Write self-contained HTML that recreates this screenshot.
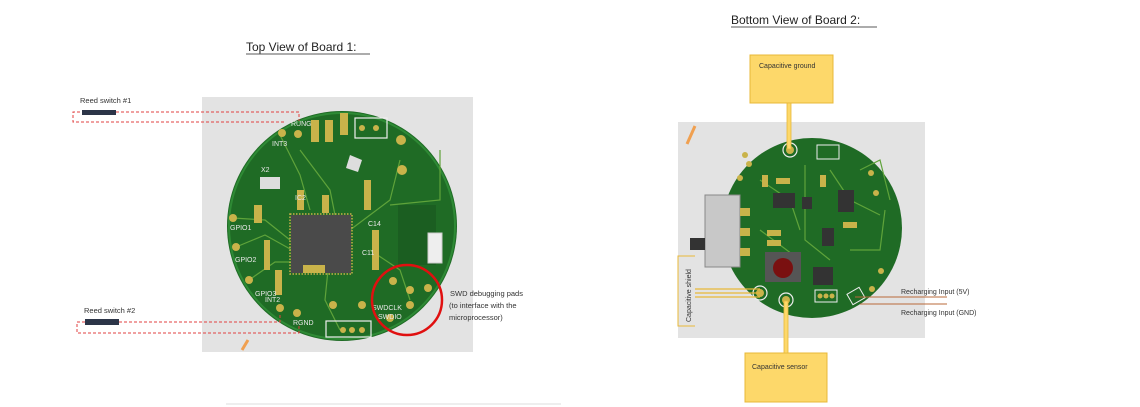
<!DOCTYPE html>
<html><head><meta charset="utf-8"><style>
html,body{margin:0;padding:0;background:#fff;width:1140px;height:407px;overflow:hidden}
svg text{font-family:"Liberation Sans",sans-serif}
</style></head><body>
<svg width="1140" height="407" viewBox="0 0 1140 407" xmlns="http://www.w3.org/2000/svg">
<!-- titles -->
<text x="246" y="51" font-size="12" fill="#222">Top View of Board 1:</text>
<line x1="246" y1="54" x2="370" y2="54" stroke="#222" stroke-width="0.8"/>
<text x="731" y="24" font-size="12" fill="#222">Bottom View of Board 2:</text>
<line x1="731" y1="27" x2="877" y2="27" stroke="#222" stroke-width="0.8"/>

<!-- LEFT board -->
<rect x="202" y="97" width="271" height="255" fill="#e3e3e3"/>
<circle cx="342" cy="226" r="115" fill="#1f6b25"/>
<circle cx="342" cy="226" r="113" fill="none" stroke="#2e8a35" stroke-width="2"/>
<g stroke="#5fa33a" stroke-width="1.2" fill="none">
<path d="M233 218 L265 220 L290 240"/><path d="M236 247 L265 235 L292 250"/><path d="M249 280 L275 262 L292 262"/>
<path d="M280 135 L300 175 L310 210"/><path d="M300 150 L330 190 L335 215"/><path d="M350 230 L390 200 L400 160"/>
<path d="M370 250 L400 270 L410 300"/><path d="M330 250 L325 300 L340 330"/><path d="M390 205 L440 200 L440 150"/>
</g>
<rect x="291" y="215" width="60" height="58" fill="#4a4a4a"/>
<rect x="290" y="214" width="62" height="60" fill="none" stroke="#c8b04a" stroke-width="1.5" stroke-dasharray="1.5 1.5"/>
<rect x="398" y="205" width="38" height="60" fill="#1b5e21"/>
<rect x="428" y="233" width="14" height="30" fill="#eee" stroke="#ccc"/>
<rect x="260" y="177" width="20" height="12" fill="#ddd"/>
<polygon points="350,155 362,160 358,172 346,168" fill="#ddd"/>
<g fill="#c9b34a">
<circle cx="282" cy="133" r="4"/><circle cx="298" cy="134" r="4"/><circle cx="233" cy="218" r="4"/><circle cx="236" cy="247" r="4"/>
<circle cx="249" cy="280" r="4"/><circle cx="280" cy="308" r="4"/><circle cx="297" cy="313" r="4"/><circle cx="333" cy="305" r="4"/>
<circle cx="362" cy="305" r="4"/><circle cx="393" cy="281" r="4"/><circle cx="410" cy="290" r="4"/><circle cx="428" cy="288" r="4"/>
<circle cx="410" cy="305" r="4"/><circle cx="390" cy="318" r="4"/>
<circle cx="401" cy="140" r="5"/><circle cx="402" cy="170" r="5"/>
<rect x="311" y="120" width="8" height="22"/><rect x="325" y="120" width="8" height="22"/><rect x="340" y="113" width="8" height="22"/>
<rect x="297" y="190" width="7" height="20"/><rect x="322" y="195" width="7" height="18"/><rect x="364" y="180" width="7" height="30"/>
<rect x="254" y="205" width="8" height="18"/><rect x="264" y="240" width="6" height="30"/><rect x="275" y="270" width="7" height="25"/>
<rect x="372" y="230" width="7" height="40"/><rect x="303" y="265" width="22" height="8"/>
</g>
<rect x="355" y="118" width="32" height="20" fill="none" stroke="#eee" stroke-width="1.2"/>
<circle cx="362" cy="128" r="3" fill="#c9b34a"/><circle cx="376" cy="128" r="3" fill="#c9b34a"/>
<rect x="326" y="321" width="45" height="16" fill="none" stroke="#eee" stroke-width="1.2"/>
<circle cx="343" cy="330" r="3" fill="#c9b34a"/><circle cx="352" cy="330" r="3" fill="#c9b34a"/><circle cx="362" cy="330" r="3" fill="#c9b34a"/>
<g font-size="7" fill="#e8e8e8">
<text x="291" y="126">RUNG</text><text x="272" y="146">INT3</text><text x="261" y="172">X2</text><text x="295" y="200">IC2</text>
<text x="230" y="230">GPIO1</text><text x="235" y="262">GPIO2</text><text x="255" y="296">GPIO3</text><text x="265" y="302">INT2</text>
<text x="293" y="325">RGND</text><text x="372" y="310">SWDCLK</text><text x="378" y="319">SWDIO</text>
<text x="368" y="226">C14</text><text x="362" y="255">C11</text>
</g>
<circle cx="407" cy="300" r="35" fill="none" stroke="#e01010" stroke-width="2.5"/>
<path d="M242 350 L248 340" stroke="#f0a050" stroke-width="3"/>
<!-- reed switches -->
<text x="80" y="103" font-size="7.5" fill="#333">Reed switch #1</text>
<rect x="82" y="110" width="34" height="5" fill="#2c3548"/>
<path d="M116 112 L299 112 L299 121 M284 122 L73 122 L73 112 L82 112" fill="none" stroke="#e04040" stroke-width="1" stroke-dasharray="3 2"/>
<text x="84" y="313" font-size="7.5" fill="#333">Reed switch #2</text>
<rect x="85" y="319" width="34" height="6" fill="#2c3548"/>
<path d="M119 322 L280 322 L280 315 M299 326 L299 333 L77 333 L77 322 L85 322" fill="none" stroke="#e04040" stroke-width="1" stroke-dasharray="3 2"/>
<text x="450" y="296" font-size="7.5" fill="#333">SWD debugging pads</text>
<text x="449" y="308" font-size="7.5" fill="#333">(to interface with the</text>
<text x="449" y="320" font-size="7.5" fill="#333">microprocessor)</text>
<line x1="226" y1="404" x2="561" y2="404" stroke="#ddd" stroke-width="1"/>

<!-- RIGHT board -->
<rect x="678" y="122" width="247" height="216" fill="#e3e3e3"/>
<circle cx="812" cy="228" r="90" fill="#1f6b25"/>
<g stroke="#5fa33a" stroke-width="1.2" fill="none">
<path d="M760 180 L790 200 L800 230"/><path d="M830 170 L850 200 L880 215"/><path d="M805 165 L805 240 L830 260"/>
<path d="M850 250 L880 250 L885 210"/><path d="M760 230 L800 260"/><path d="M860 170 L880 160 L890 200"/>
</g>
<circle cx="790" cy="150" r="7" fill="none" stroke="#eee" stroke-width="1.2"/><circle cx="790" cy="150" r="4" fill="#c9b34a"/>
<circle cx="760" cy="293" r="7" fill="none" stroke="#eee" stroke-width="1.2"/><circle cx="760" cy="293" r="4" fill="#c9b34a"/>
<circle cx="786" cy="300" r="7" fill="none" stroke="#eee" stroke-width="1.2"/><circle cx="786" cy="300" r="4" fill="#c9b34a"/>
<rect x="705" y="195" width="35" height="72" fill="#c8c8c8" stroke="#888"/>
<rect x="690" y="238" width="15" height="12" fill="#333"/>
<rect x="740" y="208" width="10" height="8" fill="#c9b34a"/><rect x="740" y="228" width="10" height="8" fill="#c9b34a"/><rect x="740" y="248" width="10" height="8" fill="#c9b34a"/>
<rect x="765" y="252" width="36" height="30" fill="#555"/>
<circle cx="783" cy="268" r="10" fill="#7a1010"/>
<rect x="773" y="193" width="22" height="15" fill="#333"/><rect x="802" y="197" width="10" height="12" fill="#333"/>
<rect x="838" y="190" width="16" height="22" fill="#333"/><rect x="822" y="228" width="12" height="18" fill="#333"/>
<rect x="813" y="267" width="20" height="18" fill="#333"/>
<rect x="817" y="145" width="22" height="14" fill="none" stroke="#eee"/>
<rect x="815" y="290" width="22" height="12" fill="none" stroke="#eee"/>
<g fill="#c9b34a">
<circle cx="745" cy="155" r="3"/><circle cx="749" cy="164" r="3"/><circle cx="740" cy="178" r="3"/><circle cx="871" cy="173" r="3"/>
<circle cx="876" cy="193" r="3"/><circle cx="881" cy="271" r="3"/><circle cx="872" cy="289" r="3"/>
<circle cx="820" cy="296" r="2.5"/><circle cx="826" cy="296" r="2.5"/><circle cx="832" cy="296" r="2.5"/>
<rect x="762" y="175" width="6" height="12"/><rect x="776" y="178" width="14" height="6"/><rect x="767" y="230" width="14" height="6"/>
<rect x="767" y="240" width="14" height="6"/><rect x="820" y="175" width="6" height="12"/><rect x="843" y="222" width="14" height="6"/>
</g>
<rect x="849" y="290" width="14" height="12" fill="none" stroke="#eee" transform="rotate(-30 856 296)"/>
<path d="M687 144 L695 126" stroke="#f0a050" stroke-width="3"/>
<!-- annotations -->
<rect x="750" y="55" width="83" height="48" fill="#fdd86a" stroke="#e8b838"/>
<text x="759" y="68" font-size="7" fill="#333">Capacitive ground</text>
<rect x="787" y="103" width="4" height="46" fill="#fdd86a" stroke="#e8b838" stroke-width="0.8"/>
<rect x="745" y="353" width="82" height="49" fill="#fdd86a" stroke="#e8b838"/>
<text x="752" y="369" font-size="7" fill="#333">Capacitive sensor</text>
<rect x="784" y="301" width="4" height="52" fill="#fdd86a" stroke="#e8b838" stroke-width="0.8"/>
<path d="M695 256 L678 256 L678 326 L695 326" fill="none" stroke="#e8b838" stroke-width="1"/>
<text transform="translate(691 322) rotate(-90)" font-size="7" fill="#333">Capacitive shield</text>
<line x1="695" y1="289" x2="760" y2="289" stroke="#e8b838" stroke-width="1.3"/>
<line x1="695" y1="293" x2="760" y2="293" stroke="#e8b838" stroke-width="1.3"/>
<line x1="695" y1="297" x2="760" y2="297" stroke="#e8b838" stroke-width="1.3"/>
<line x1="855" y1="297" x2="947" y2="297" stroke="#b86a3a" stroke-width="1"/>
<line x1="860" y1="304" x2="947" y2="304" stroke="#b86a3a" stroke-width="1"/>
<text x="901" y="294" font-size="7" fill="#333">Recharging Input (5V)</text>
<text x="901" y="315" font-size="7" fill="#333">Recharging Input (GND)</text>
</svg>
</body></html>
